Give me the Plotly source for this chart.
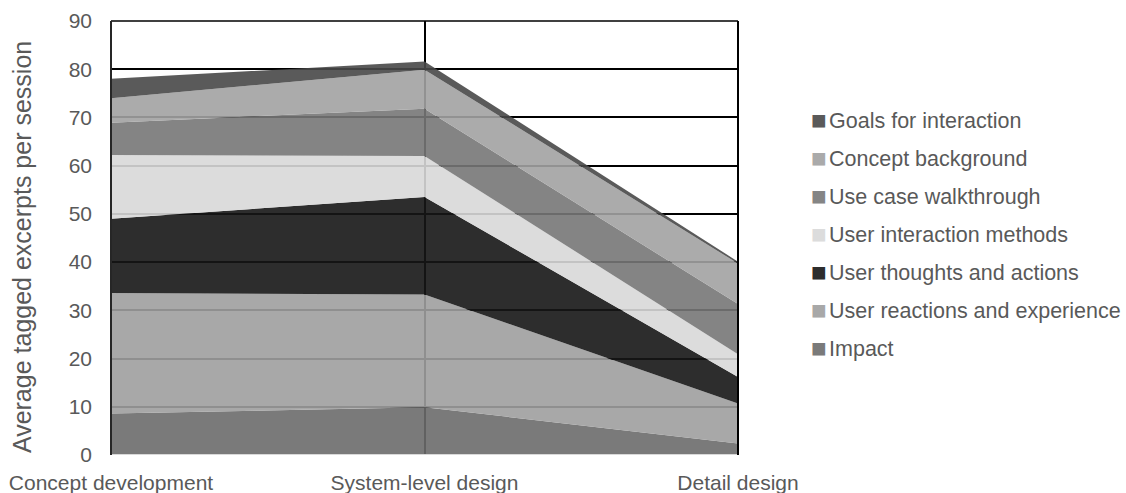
import plotly.graph_objects as go

# Design phases along the x axis
phases = ["Concept development", "System-level design", "Detail design"]

# Average tagged excerpts per session, per category (stacked bottom to top)
impact = [8.6, 9.9, 2.4]
user_reactions = [25.0, 23.4, 8.3]
user_thoughts = [15.4, 20.2, 5.5]
interaction_methods = [13.2, 8.5, 4.7]
use_case = [6.7, 9.8, 10.4]
concept_background = [5.1, 8.1, 8.4]
goals = [4.0, 1.7, 0.4]

y_ticks = [0, 10, 20, 30, 40, 50, 60, 70, 80, 90]

series = [
    ("Impact", impact, "rgba(107,107,107,0.9)", "#7a7a7a"),
    ("User reactions and experience", user_reactions, "rgba(158,158,158,0.9)", "#a8a8a8"),
    ("User thoughts and actions", user_thoughts, "rgba(22,22,22,0.9)", "#2d2d2d"),
    ("User interaction methods", interaction_methods, "rgba(216,216,216,0.9)", "#dcdcdc"),
    ("Use case walkthrough", use_case, "rgba(119,119,119,0.9)", "#858585"),
    ("Concept background", concept_background, "rgba(162,162,162,0.9)", "#aaaaaa"),
    ("Goals for interaction", goals, "rgba(72,72,72,0.9)", "#5a5a5a"),
]

x_pos = list(range(len(phases)))

fig = go.Figure()

# Stacked areas
for name, vals, fill, _ in series:
    fig.add_trace(go.Scatter(
        x=x_pos, y=vals, name=name, mode="lines",
        stackgroup="one", line=dict(width=0), fillcolor=fill,
        showlegend=False, hoverinfo="x+y+name",
    ))

# Legend entries, top category first; the swatch is a square glyph
# set just before the label text
for name, _, _, swatch in reversed(series):
    label = (f"<span style='font-size:26px;color:{swatch};"
             f"baseline-shift:-1px'>■</span>"
             f"<span style='font-size:8px'> </span>{name}")
    fig.add_trace(go.Scatter(
        x=[None], y=[None], name=label, mode="markers",
        marker=dict(symbol="square", size=1, color="rgba(0,0,0,0)"),
        legendgroup=name, showlegend=True,
    ))

font_family = "Liberation Sans, Arial, sans-serif"
text_color = "#595959"

fig.update_layout(
    width=1126, height=493,
    margin=dict(l=111, r=388, t=21, b=38),
    paper_bgcolor="white", plot_bgcolor="white",
    font=dict(family=font_family, size=21, color=text_color),
    xaxis=dict(
        range=[0, len(phases) - 1], tickvals=x_pos, ticktext=phases,
        showgrid=True, gridcolor="#000000", gridwidth=1.5,
        zeroline=False, showline=False, ticks="",
        ticklabelstandoff=13, automargin=False,
        tickfont=dict(size=21, color=text_color),
    ),
    yaxis=dict(
        range=[0, 90], tickvals=y_ticks,
        showgrid=True, gridcolor="#000000", gridwidth=1.5,
        zeroline=False, showline=False, ticks="",
        ticklabelstandoff=18, automargin=False,
        tickfont=dict(size=21, color=text_color),
    ),
    legend=dict(
        xref="container", yref="container",
        x=0.6848, xanchor="left", y=0.799, yanchor="top",
        font=dict(size=21.5, color=text_color),
        tracegroupgap=7, itemwidth=30, maxheight=420,
        bgcolor="rgba(0,0,0,0)",
    ),
    showlegend=True,
)

# Y axis title
fig.add_annotation(
    text="Average tagged excerpts per session",
    xref="paper", yref="paper", x=-0.142, y=0.479,
    xanchor="center", yanchor="middle", textangle=-90, showarrow=False,
    font=dict(size=25, color=text_color),
)

# Plot-area frame: light baseline, dark left edge, black top and right edges
fig.add_shape(type="line", xref="paper", yref="y", x0=0, x1=1, y0=0, y1=0,
              line=dict(color="#d9d9d9", width=2), layer="above")
fig.add_shape(type="line", xref="paper", yref="paper", x0=0, x1=0, y0=0, y1=1,
              line=dict(color="#262626", width=2), layer="above")
fig.add_shape(type="line", xref="paper", yref="paper", x0=1, x1=1, y0=0, y1=1,
              line=dict(color="#000000", width=2), layer="above")
fig.add_shape(type="line", xref="paper", yref="paper", x0=0, x1=1, y0=1, y1=1,
              line=dict(color="#000000", width=1.5), layer="below")

fig.write_html("out.html")
